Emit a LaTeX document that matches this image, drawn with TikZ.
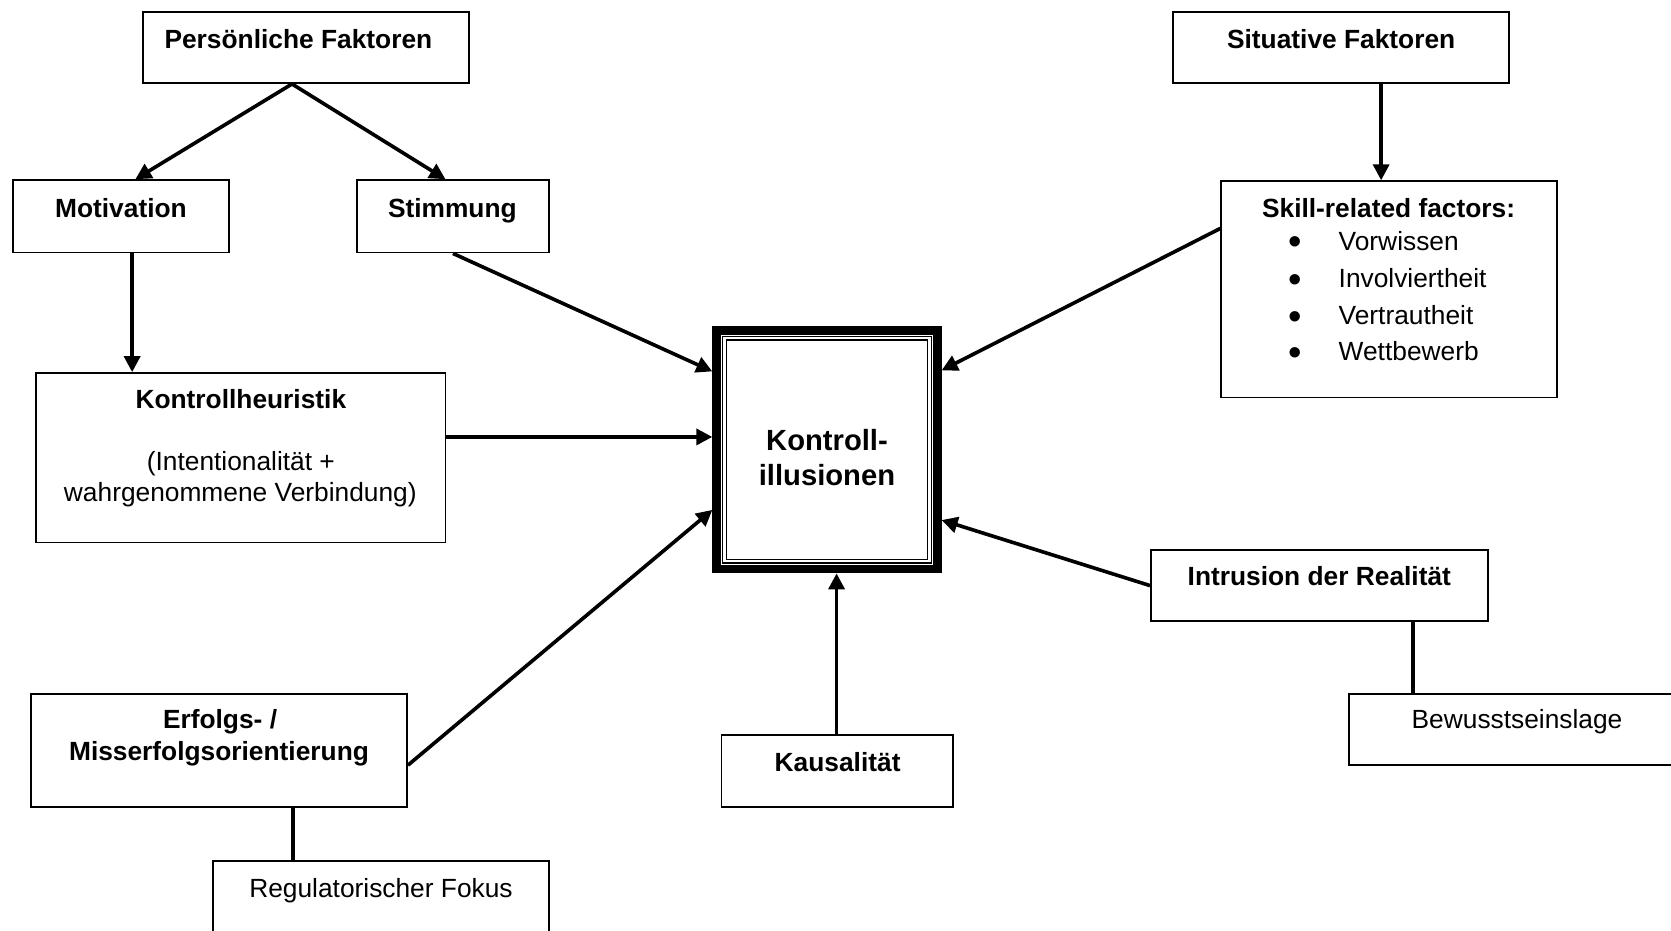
\documentclass[tikz,border=0pt]{standalone}
\usepackage{fontspec}
\setmainfont{Liberation Sans}
\usetikzlibrary{arrows.meta}
\begin{document}
\begin{tikzpicture}[x=1pt,y=-1pt,
  box/.style={draw, rectangle, line width=1.6pt, inner sep=0pt, outer sep=0.8pt},
  txt/.style={inner sep=0pt, anchor=base, font=\fontsize{24.7}{29}\selectfont},
  btxt/.style={txt, font=\fontsize{24.7}{29}\selectfont\bfseries},
  bigtxt/.style={txt, font=\fontsize{27.4}{32}\selectfont\bfseries},
  bullet/.style={inner sep=0pt, anchor=base, font=\fontsize{36}{36}\selectfont},
  conn/.style={line width=3.4pt},
  arr/.style={conn, -{Triangle[length=15pt,width=15pt]}}
]
\useasboundingbox (0,0) rectangle (1568,873);
\clip (0,0) rectangle (1568,873);

% boxes
\node[box, minimum width=306pt, minimum height=67pt] (pf)    at (287,44.5)    {};
\node[box, minimum width=203pt, minimum height=68pt] (mot)   at (113.5,203)   {};
\node[box, minimum width=180pt, minimum height=68pt] (sti)   at (425,203)     {};
\node[box, minimum width=315pt, minimum height=67pt] (sf)    at (1258.5,44.5) {};
\node[box, minimum width=315pt, minimum height=203pt] (skill) at (1303.5,271.5) {};
\node[box, minimum width=384pt, minimum height=159pt] (kh)   at (226,429.5)   {};
\node[box, minimum width=316pt, minimum height=67pt] (ir)    at (1238,549.5)  {};
\node[box, minimum width=315pt, minimum height=67pt] (bw)    at (1423.5,684.5) {};
\node[box, minimum width=353pt, minimum height=106pt] (em)   at (205.5,704)   {};
\node[box, minimum width=315pt, minimum height=68pt] (rf)    at (357.5,842)   {};
\node[box, minimum width=217pt, minimum height=67pt] (ka)    at (785.5,723.5) {};

% central box with thick outer frame and two thin inner frames
\node[draw, rectangle, line width=8pt, inner sep=0pt, outer sep=4pt,
      minimum width=207.2pt, minimum height=224.1pt] (ki) at (776,422) {};
\draw[line width=1.3pt] ([shift={(9.6,9.6)}]ki.north west) rectangle ([shift={(-9.6,-9.6)}]ki.south east);
\draw[line width=1.3pt] ([shift={(13.2,13.2)}]ki.north west) rectangle ([shift={(-13.2,-13.2)}]ki.south east);

% texts
\node[btxt] (t-pf)  at (280,45.3)    {Persönliche Faktoren};
\node[btxt] (t-mot) at (113.5,203.7) {Motivation};
\node[btxt] (t-sti) at (424.5,203.7) {Stimmung};
\node[btxt] (t-sf)  at (1258.5,45.3) {Situative Faktoren};
\node[btxt] (t-sk)  at (1303,204)    {Skill-related factors:};
\foreach \y/\w [count=\i] in {234.6/Vorwissen, 269.6/Involviertheit, 304.6/Vertrautheit, 338.6/Wettbewerb}{
  \node[bullet] (b-\i) at (1215,\y+4.5) {•};
  \node[txt, anchor=base west] (i-\i) at (1256,\y) {\w};
}
\node[btxt] (t-kh1) at (226,383.5)   {Kontrollheuristik};
\node[txt]  (t-kh2) at (226,441.7)   {(Intentionalität +};
\node[txt]  (t-kh3) at (225.5,470.7) {wahrgenommene Verbindung)};
\node[bigtxt] (t-ki1) at (776,422.3) {Kontroll-};
\node[bigtxt] (t-ki2) at (776,455.3) {illusionen};
\node[btxt] (t-ir)  at (1238,549.7)  {Intrusion der Realität};
\node[txt]  (t-bw)  at (1423.5,683.7) {Bewusstseinslage};
\node[btxt] (t-em1) at (206.5,683.7) {Erfolgs- /};
\node[btxt] (t-em2) at (205.5,713.7) {Misserfolgsorientierung};
\node[txt]  (t-rf)  at (357.5,841.7) {Regulatorischer Fokus};
\node[btxt] (t-ka)  at (786,723.7)   {Kausalität};

% connectors
\draw[arr] ([xshift=-13pt]pf.south) -- ([xshift=13.5pt]mot.north);
\draw[arr] ([xshift=-13pt]pf.south) -- ([xshift=-7pt]sti.north);
\draw[arr] ([xshift=37.5pt]sf.south) -- ([xshift=-7.5pt]skill.north);
\draw[arr] ([xshift=10.5pt]mot.south) -- ([xshift=-102pt]kh.north);
\draw[arr] (sti.south) -- ([yshift=73.5pt]ki.west);
\draw[arr] ([yshift=19.5pt]kh.east) -- ([yshift=12pt]ki.west);
\draw[arr] ([yshift=-14pt]em.east) -- ([yshift=-56.5pt]ki.west);
\draw[arr] ([yshift=57.2pt]skill.west) -- ([yshift=74.5pt]ki.east);
\draw[arr] (ir.west) -- ([yshift=-66pt]ki.east);
\draw[arr] ([xshift=-0.5pt]ka.north) -- ([xshift=9pt]ki.south);
\draw[conn] ([xshift=69.5pt]em.south) -- ([xshift=-82.5pt]rf.north);
\draw[conn] ([xshift=88pt]ir.south) -- ([xshift=-97.5pt]bw.north);
\end{tikzpicture}
\end{document}
